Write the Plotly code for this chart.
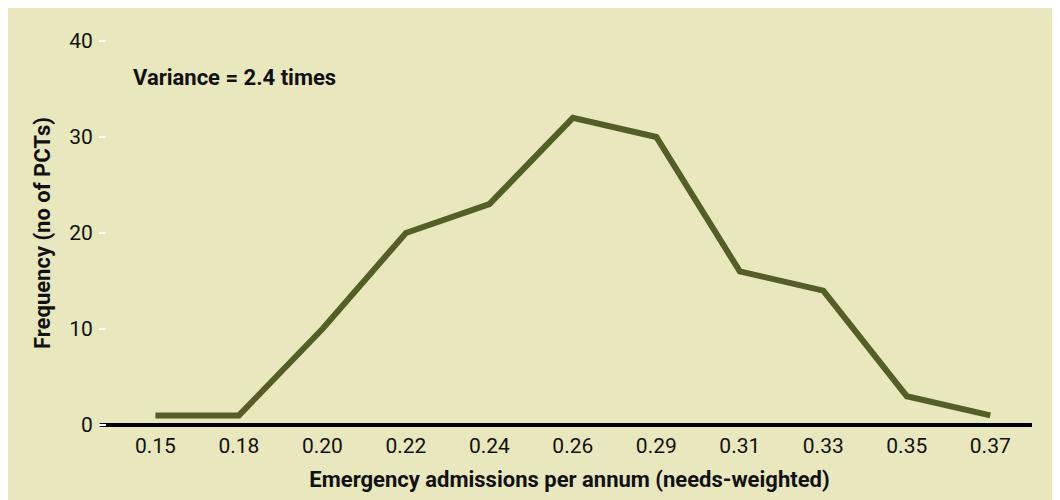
import plotly.graph_objects as go

# emergency admissions bands (needs-weighted) and number of PCTs in each
admission_rate = ['0.15', '0.18', '0.20', '0.22', '0.24', '0.26',
                  '0.29', '0.31', '0.33', '0.35', '0.37']
n_pcts = [1, 1, 10, 20, 23, 32, 30, 16, 14, 3, 1]
y_ticks = [0, 10, 20, 30, 40]

beige = '#e9e7bd'
olive = '#535f27'
font = 'Roboto'

fig = go.Figure()
fig.add_trace(go.Scatter(
    x=admission_rate, y=n_pcts, mode='lines',
    line=dict(color=olive, width=6), hoverinfo='x+y', showlegend=False))

fig.add_annotation(text='<b>Variance = 2.4 times</b>', xref='paper', yref='paper',
                   x=0.026, y=0.904, xanchor='left', yanchor='middle',
                   showarrow=False, font=dict(family=font, size=22, color='#111'))

fig.update_layout(
    width=1060, height=500,
    margin=dict(l=99, r=36, t=33, b=83),
    paper_bgcolor=beige, plot_bgcolor=beige,
    font=dict(family=font, size=21, color='#111'),
    xaxis=dict(type='category', range=[-0.58, 10.5], showgrid=False,
               showline=False, zeroline=False, ticks='', ticklabelstandoff=6,
               title=dict(text='<b>Emergency admissions per annum (needs-weighted)</b>',
                          font=dict(size=22), standoff=14)),
    yaxis=dict(range=[0, 40], tickvals=y_ticks, showgrid=False, zeroline=False,
               showline=False, ticks='outside', ticklen=7, tickwidth=2,
               tickcolor='white', ticklabelstandoff=2,
               title=dict(text='<b>Frequency (no of PCTs)</b>',
                          font=dict(size=22), standoff=12)),
)

# black baseline at zero
fig.add_shape(type='line', xref='paper', yref='paper', x0=-0.008, x1=1.0,
              y0=0, y1=0, line=dict(color='black', width=4), layer='below')

fig.write_html('out.html')
